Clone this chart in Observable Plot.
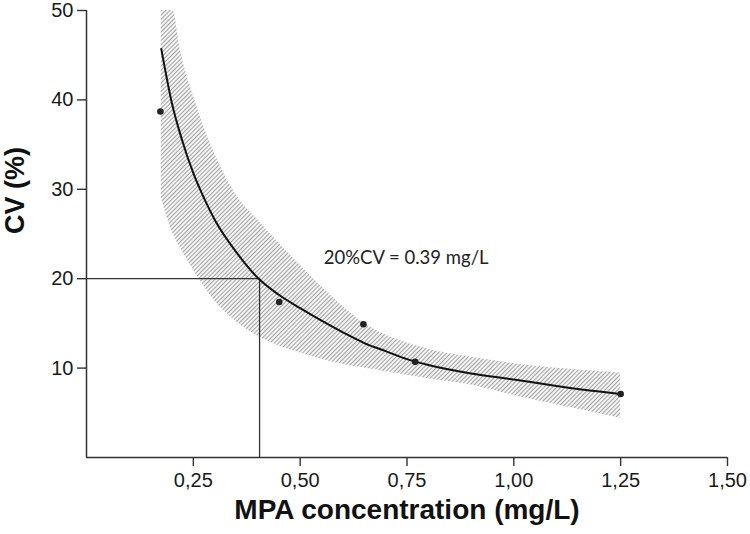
<!DOCTYPE html>
<html>
<head>
<meta charset="utf-8">
<script src="https://cdn.jsdelivr.net/npm/d3@7"></script>
<script src="https://cdn.jsdelivr.net/npm/@observablehq/plot@0.6"></script>
<style>
  html, body { margin: 0; padding: 0; background: #fff; }
  #chart { width: 750px; height: 534px; }
</style>
</head>
<body>
<div id="chart"></div>
<script>
// ---- data ----
const obsX = [0.173, 0.451, 0.648, 0.769, 1.25];
const obsY = [38.7, 17.4, 14.9, 10.7, 7.1];

const fitX = [0.175, 0.20, 0.225, 0.25, 0.278, 0.30, 0.35, 0.405, 0.45, 0.50, 0.55, 0.60, 0.65, 0.70, 0.75, 0.80, 0.90, 1.00, 1.10, 1.20, 1.25];
const fitY = [45.7, 39.6, 35.3, 31.8, 28.7, 26.6, 23.0, 19.9, 18.2, 16.7, 15.3, 14.0, 12.8, 11.9, 11.0, 10.35, 9.4, 8.72, 8.0, 7.37, 7.1];

const bandX  = [0.175, 0.2025, 0.22, 0.25, 0.30, 0.35, 0.40, 0.45, 0.50, 0.55, 0.60, 0.65, 0.70, 0.75, 0.80, 0.90, 0.97, 1.05, 1.15, 1.25];
const bandHi = [50, 50, 45.5, 40.5, 34.0, 29.4, 26.6, 24.0, 21.5, 19.1, 16.9, 15.0, 13.7, 12.8, 12.1, 11.2, 10.7, 10.2, 9.8, 9.45];
const bandLo = [29.0, 25.0, 23.4, 21.0, 17.5, 15.2, 13.6, 12.5, 11.7, 11.0, 10.4, 10.0, 9.6, 9.2, 8.8, 8.1, 7.3, 6.4, 5.4, 4.4];

const cutoffX = [0.405];
const cutoffY = [20];

const xTicks = [0.25, 0.50, 0.75, 1.00, 1.25, 1.50];
const yTicks = [10, 20, 30, 40, 50];

const xTitle = "MPA concentration (mg/L)";
const yTitle = "CV (%)";
const annotText = ["20%CV = 0.39 mg/L"];
const annotX = [0.748];
const annotY = [22.3];

// ---- tables ----
const obs = obsX.map((x, i) => ({x, y: obsY[i]}));
const fit = fitX.map((x, i) => ({x, y: fitY[i]}));
const band = bandX.map((x, i) => ({x, lo: bandLo[i], hi: bandHi[i]}));
const annot = annotText.map((t, i) => ({t, x: annotX[i], y: annotY[i]}));
const fmt = v => v.toFixed(2).replace(".", ",");

const chart = Plot.plot({
  width: 750,
  height: 534,
  marginLeft: 86,
  marginRight: 23,
  marginTop: 10,
  marginBottom: 77,
  style: {fontFamily: "'Liberation Sans', Arial, sans-serif", fontSize: "20px", color: "#1a1a1a", background: "#fff"},
  x: {domain: [0, 1.5], ticks: xTicks, tickFormat: fmt, tickSize: 9, tickPadding: 6, label: null},
  y: {domain: [0, 50], ticks: yTicks, tickSize: 9, tickPadding: 4, label: null},
  marks: [
    Plot.areaY(band, {x: "x", y1: "lo", y2: "hi", fill: "#d0d0d0", curve: "monotone-x"}),
    Plot.ruleY(cutoffY, {x1: 0, x2: cutoffX[0], stroke: "#333", strokeWidth: 1.3}),
    Plot.ruleX(cutoffX, {y1: 0, y2: cutoffY[0], stroke: "#333", strokeWidth: 1.3}),
    Plot.ruleX([0], {y1: 0, y2: 50, stroke: "#333", strokeWidth: 1.5}),
    Plot.ruleY([0], {x1: 0, x2: 1.5, stroke: "#333", strokeWidth: 1.5}),
    Plot.line(fit, {x: "x", y: "y", stroke: "#111", strokeWidth: 2, curve: "monotone-x"}),
    Plot.dot(obs, {x: "x", y: "y", r: 3.3, fill: "#222", stroke: "none"}),
    Plot.text(annot, {x: "x", y: "y", text: "t", fontFamily: "Lato, 'Open Sans', sans-serif", fontSize: 18.5, fill: "#222"}),
    Plot.text([xTitle], {frameAnchor: "bottom", dy: 61, text: d => d, fontFamily: "'Liberation Sans', Arial, sans-serif", fontWeight: "bold", fontSize: 28, fill: "#111"}),
    Plot.text([yTitle], {frameAnchor: "left", dx: -71, rotate: -90, text: d => d, fontFamily: "'Liberation Sans', Arial, sans-serif", fontWeight: "bold", fontSize: 27, fill: "#111"})
  ]
});

// hatch pattern for the confidence band
const svg = d3.select(chart);
svg.insert("defs", ":first-child").html(
  '<pattern id="hatch" width="3" height="3" patternUnits="userSpaceOnUse" patternTransform="rotate(45)">' +
  '<rect width="3" height="3" fill="#fafafa"/>' +
  '<line x1="1.5" y1="0" x2="1.5" y2="3" stroke="#a2a2a2" stroke-width="1.1"/></pattern>'
);
svg.selectAll('g[aria-label="area"] path').attr("fill", "url(#hatch)");
svg.selectAll('g[aria-label="x-axis tick"] path, g[aria-label="y-axis tick"] path, g[aria-label="x-axis"] line, g[aria-label="y-axis"] line').attr("stroke", "#333").attr("stroke-width", 1.4);

document.getElementById("chart").appendChild(chart);
</script>
</body>
</html>
